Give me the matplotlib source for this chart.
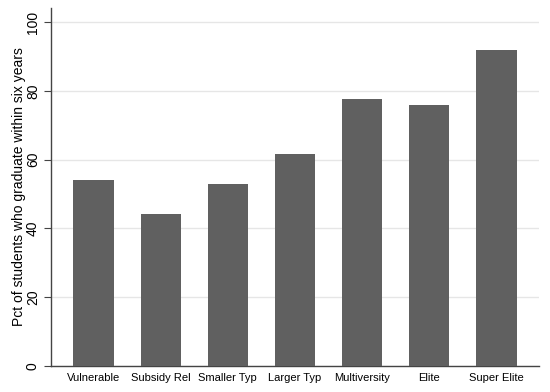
import matplotlib
matplotlib.use("Agg")
import matplotlib.pyplot as plt

categories = ["Vulnerable", "Subsidy Rel", "Smaller Typ", "Larger Typ", "Multiversity", "Elite", "Super Elite"]
values = [54.0, 44.1, 52.9, 61.6, 77.6, 75.8, 92.1]
yticks = [0, 20, 40, 60, 80, 100]

plt.rcParams['font.family'] = ['Liberation Sans', 'DejaVu Sans']

fig = plt.figure(figsize=(5.5, 3.92), dpi=100)
ax = fig.add_axes([51/550, 1 - 365.7/392, 488/550, (365.7 - 8)/392])

x = list(range(len(categories)))
ax.bar(x, values, width=0.6, color='#606060', zorder=3)

ax.set_xlim(-0.633, 6.633)
ax.set_ylim(0, 104.2)
ax.set_yticks(yticks)
ax.set_yticklabels([str(v) for v in yticks], rotation=90, va='center', fontsize=10)
ax.set_xticks(x)
ax.set_xticklabels(categories, fontsize=8)
ax.tick_params(axis='x', length=0, pad=5)
ax.tick_params(axis='y', length=5, width=0.8, color='#444444', pad=3)
ax.grid(axis='y', color='#e6e6e6', linewidth=1, zorder=0)
for s in ['top', 'right']:
    ax.spines[s].set_visible(False)
for s in ['left', 'bottom']:
    ax.spines[s].set_color('#444444')
    ax.spines[s].set_linewidth(1)
ax.set_ylabel("Pct of students who graduate within six years", fontsize=10)
ax.yaxis.set_label_coords(-0.051, 0.5)

fig.savefig("out.png", dpi=100)
